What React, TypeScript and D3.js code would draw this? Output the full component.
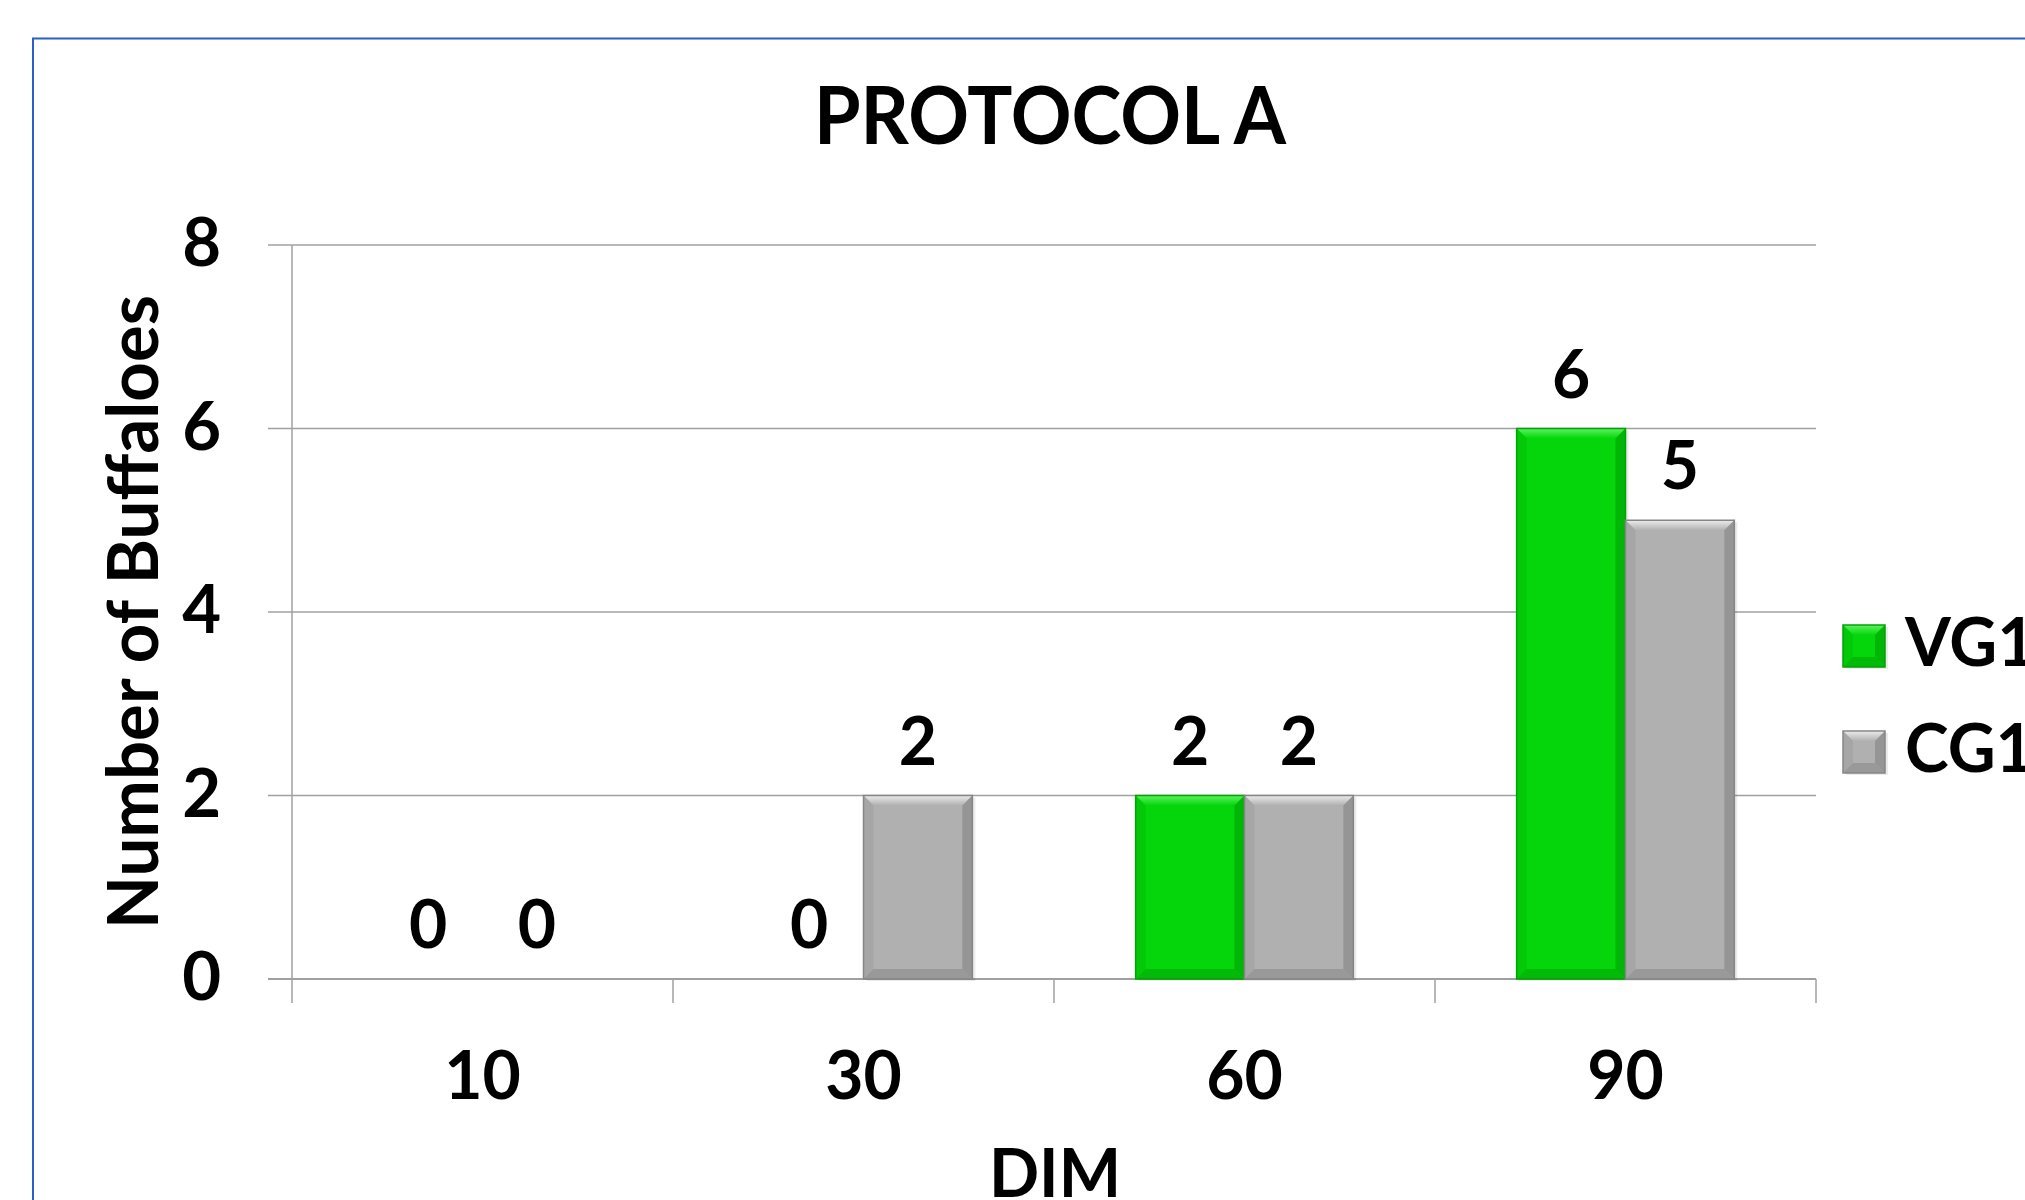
import React from "react";
import * as d3 from "d3";

const categories = ["10", "30", "60", "90"];
const seriesNames = ["VG1", "CG1"];
const vg1Values = [0, 0, 2, 6];
const cg1Values = [0, 2, 2, 5];
const yTicks = [0, 2, 4, 6, 8];

const W = 2025;
const H = 1200;
const FONT = "Lato, 'Open Sans', 'Liberation Sans', sans-serif";

const palette: Record<string, { base: string; light: string; dark: string; stroke: string; side: string }> = {
  VG1: { base: "#04d60b", light: "#5cf35f", dark: "#02a806", stroke: "#03a007", side: "#03c309" },
  CG1: { base: "#b0b0b0", light: "#ececec", dark: "#8a8a8a", stroke: "#868686", side: "#a2a2a2" },
};

function BevelRect({ x, y, w, h, name, id }: { x: number; y: number; w: number; h: number; name: string; id: string }) {
  const c = palette[name];
  const b = Math.min(10, w / 4, h / 2);
  const x1 = x + w;
  const y1 = y + h;
  return (
    <g>
      <rect x={x + 3} y={y + 2} width={w} height={h} fill="#000" opacity={0.08} />
      <rect x={x} y={y} width={w} height={h} fill={c.base} />
      <polygon points={`${x},${y} ${x1},${y} ${x1 - b},${y + b} ${x + b},${y + b}`} fill={`url(#top-${id})`} />
      <polygon points={`${x},${y} ${x + b},${y + b} ${x + b},${y1 - b} ${x},${y1}`} fill={c.side} opacity={0.7} />
      <polygon points={`${x1},${y} ${x1 - b},${y + b} ${x1 - b},${y1 - b} ${x1},${y1}`} fill={c.dark} opacity={0.7} />
      <polygon points={`${x},${y1} ${x + b},${y1 - b} ${x1 - b},${y1 - b} ${x1},${y1}`} fill={c.dark} opacity={0.6} />
      <rect x={x} y={y} width={w} height={h} fill="none" stroke={c.stroke} strokeWidth={1.5} />
    </g>
  );
}

export default function App() {
  const plotLeft = 292;
  const plotRight = 1816;
  const plotTop = 245;
  const plotBottom = 979;

  const y = d3.scaleLinear().domain([0, 8]).range([plotBottom, plotTop]);
  const x0 = d3.scaleBand<string>().domain(categories).range([plotLeft, plotRight]).paddingInner(0).paddingOuter(0);
  const bw = x0.bandwidth();
  const off = (bw * 0.75) / 3.5;
  const x1 = d3.scaleBand<string>().domain(seriesNames).range([off, bw - off]).padding(0);

  const seriesValues: Record<string, number[]> = { VG1: vg1Values, CG1: cg1Values };
  const gridColor = "#a0a0a0";

  return (
    <svg width={W} height={H} style={{ position: "absolute", left: 0, top: 0, display: "block" }} fontFamily={FONT}>
      <defs>
        {seriesNames.map((s) => (
          <linearGradient key={s} id={`top-${s}`} x1="0" y1="0" x2="0" y2="1">
            <stop offset="0" stopColor={palette[s].light} />
            <stop offset="1" stopColor={palette[s].base} />
          </linearGradient>
        ))}
      </defs>
      <rect x={0} y={0} width={W} height={H} fill="#ffffff" />
      <rect x={33} y={38.5} width={W + 100} height={H + 100} fill="none" stroke="#2a5fc8" strokeWidth={2} />

      {/* title */}
      <text x={1050} y={144} textAnchor="middle" fontSize={80} fontWeight={700} fill="#000" textLength={472} lengthAdjust="spacingAndGlyphs">
        PROTOCOL A
      </text>

      {/* gridlines */}
      {yTicks.map((t) => (
        <line key={t} x1={268} x2={plotRight} y1={y(t)} y2={y(t)} stroke={gridColor} strokeWidth={t === 0 ? 2 : 1.5} />
      ))}
      {/* y axis line */}
      <line x1={plotLeft} x2={plotLeft} y1={plotTop} y2={plotBottom + 24} stroke={gridColor} strokeWidth={1.5} />
      {/* x ticks */}
      {[...categories.map((c) => x0(c) as number), plotRight].map((v, i) =>
        i === 0 ? null : <line key={i} x1={v} x2={v} y1={plotBottom} y2={plotBottom + 24} stroke={gridColor} strokeWidth={1.5} />
      )}

      {/* y tick labels */}
      {yTicks.map((t) => (
        <text key={t} x={221} y={y(t) + 21} textAnchor="end" fontSize={67} fontWeight={700} fill="#000">
          {t}
        </text>
      ))}

      {/* bars */}
      {categories.map((c, ci) =>
        seriesNames.map((s) => {
          const v = seriesValues[s][ci];
          const bx = (x0(c) as number) + (x1(s) as number);
          const w = x1.bandwidth();
          const top = y(v);
          return (
            <g key={c + s}>
              {v > 0 && <BevelRect x={bx} y={top} w={w} h={y(0) - top} name={s} id={s} />}
              <text x={bx + w / 2} y={top - 31} textAnchor="middle" fontSize={66} fontWeight={700} fill="#000">
                {v}
              </text>
            </g>
          );
        })
      )}

      {/* x tick labels */}
      {categories.map((c) => (
        <text key={c} x={(x0(c) as number) + bw / 2} y={1099} textAnchor="middle" fontSize={66} fontWeight={700} fill="#000">
          {c}
        </text>
      ))}

      {/* axis titles */}
      <text x={1055} y={1197} textAnchor="middle" fontSize={66} fontWeight={700} fill="#000">
        DIM
      </text>
      <text
        transform={`translate(158, 612) rotate(-90)`}
        textAnchor="middle"
        fontSize={70}
        fontWeight={700}
        fill="#000"
        textLength={634}
        lengthAdjust="spacingAndGlyphs"
      >
        Number of Buffaloes
      </text>

      {/* legend */}
      {seriesNames.map((s, i) => {
        const ly = [625, 731][i];
        return (
          <g key={s}>
            <BevelRect x={1843} y={ly} w={42} h={42} name={s} id={s} />
            <text x={1905} y={ly + 41} fontSize={66} fontWeight={700} fill="#000">
              {s}
            </text>
          </g>
        );
      })}
    </svg>
  );
}
